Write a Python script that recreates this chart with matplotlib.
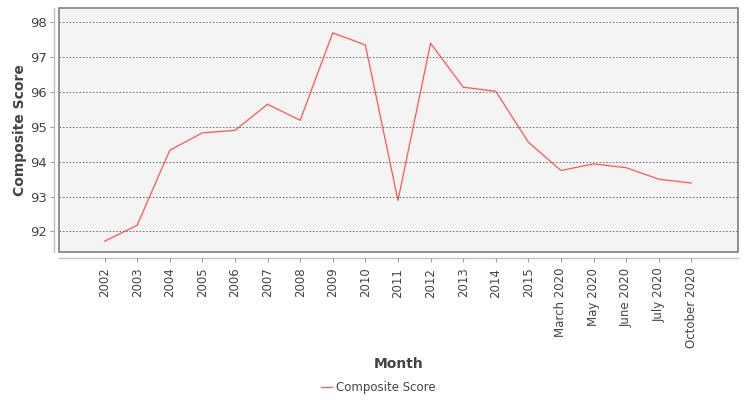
import matplotlib
matplotlib.use("Agg")
from matplotlib import pyplot as plt

months = ["2002", "2003", "2004", "2005", "2006", "2007", "2008", "2009",
          "2010", "2011", "2012", "2013", "2014", "2015", "March 2020",
          "May 2020", "June 2020", "July 2020", "October 2020"]
composite_score = [91.72, 92.18, 94.33, 94.83, 94.90, 95.65, 95.19, 97.70,
                   97.35, 92.89, 97.40, 96.14, 96.02, 94.56, 93.75,
                   93.94, 93.83, 93.50, 93.39]
y_ticks = [92, 93, 94, 95, 96, 97, 98]

plt.rcParams['font.family'] = ['DejaVu Sans']

fig = plt.figure(figsize=(7.5, 4), dpi=100)
ax = fig.add_axes([0.079, 0.369, 0.905, 0.610])

x = list(range(len(months)))
ax.plot(x, composite_score, color='#ff5555', linewidth=0.9, label='Composite Score')

ax.set_xlim(-1.39, len(months) - 1 + 1.43)
ax.set_ylim(91.4, 98.4)
ax.set_xticks(x)
ax.set_xticklabels(months)
ax.set_yticks(y_ticks)
ax.set_yticklabels([str(v) for v in y_ticks])

# fondo y marco
ax.set_facecolor('#f4f4f4')
ax.patch.set_edgecolor('#808080')
ax.patch.set_linewidth(1.2)

ax.grid(axis='y', color='#666666', linestyle=(0, (2, 2)), linewidth=0.6)
ax.set_axisbelow(False)

for side in ['top', 'right']:
    ax.spines[side].set_visible(False)
for side in ['left', 'bottom']:
    ax.spines[side].set_position(('outward', 4))
    ax.spines[side].set_color('#c0c0c0')
    ax.spines[side].set_linewidth(1)

ax.tick_params(axis='both', color='#a0a0a0', length=3, width=0.8, labelcolor='#444444')
ax.tick_params(axis='y', pad=2, labelsize=9.5)
ax.tick_params(axis='x', pad=4, labelrotation=90, labelsize=8.5)

ax.set_ylabel('Composite Score', fontsize=10, fontweight='bold', color='#444444', labelpad=2)
ax.set_xlabel('Month', fontsize=10, fontweight='bold', color='#444444', labelpad=6)

fig.legend(loc='center', bbox_to_anchor=(378 / 750, 1 - 388 / 400), frameon=False,
           fontsize=8.5, handlelength=1.0, handletextpad=0.3,
           labelcolor='#444444')

fig.savefig('out.png', dpi=100)
plt.close(fig)
